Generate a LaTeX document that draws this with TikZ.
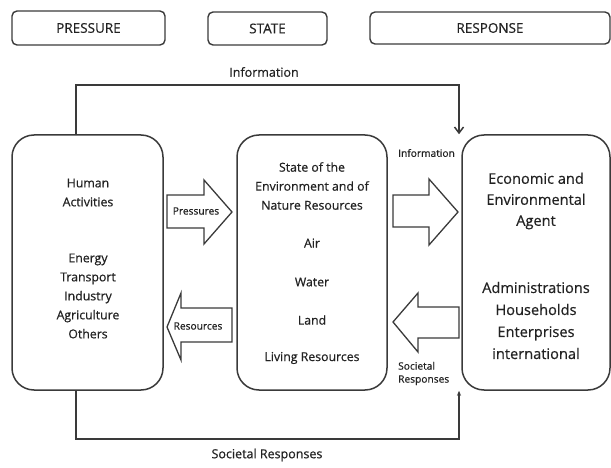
\documentclass[tikz,border=0pt]{standalone}
\usepackage{fontspec}
\setmainfont{Open Sans}[FakeBold=0.6]
\usetikzlibrary{arrows.meta}
\definecolor{ln}{HTML}{3A3A3A}
\definecolor{tx}{HTML}{222222}
\tikzset{
  hdr/.style={draw=ln, line width=1.4pt, rounded corners=5pt, text=tx, font=\fontsize{13.5}{15}\selectfont},
  bigbox/.style={draw=ln, line width=1.5pt, rounded corners=22pt},
  txt/.style={text=tx, align=center, inner sep=0pt},
  blockarrow/.style={draw=ln, line width=1.3pt, fill=white, line join=miter},
  conn/.style={draw=ln, line width=1.5pt},
  small/.style={text=tx, inner sep=0pt, font=\fontsize{10.2}{13}\selectfont},
}
\begin{document}
\begin{tikzpicture}[x=1pt,y=-1pt]
\useasboundingbox (0,0) rectangle (611,468);
% header boxes
\node[hdr, minimum width=153pt, minimum height=34pt] (hP) at (88.5,28) {PRESSURE};
\node[hdr, minimum width=119pt, minimum height=33pt] (hS) at (267.5,28.5) {STATE};
\node[hdr, minimum width=240pt, minimum height=32pt] (hR) at (490,28) {RESPONSE};
% big boxes
\node[bigbox, minimum width=151pt, minimum height=255pt] (L) at (87.5,262.5) {};
\node[bigbox, minimum width=150pt, minimum height=255pt] (M) at (312,262.5) {};
\node[bigbox, minimum width=148pt, minimum height=255pt] (R) at (536,262.5) {};
% left box text
\node[txt, font=\fontsize{12.3}{19}\selectfont] (l1) at (88,192.5) {Human\\Activities};
\node[txt, font=\fontsize{12.3}{19}\selectfont] (l2) at (88,296) {Energy\\Transport\\Industry\\Agriculture\\Others};
% middle box text
\node[txt, font=\fontsize{12.3}{19}\selectfont] (m1) at (312,186) {State of the\\Environment and of\\Nature Resources};
\node[txt, font=\fontsize{12.3}{19}\selectfont] (m2) at (312,243) {Air};
\node[txt, font=\fontsize{12.3}{19}\selectfont] (m3) at (312,282) {Water};
\node[txt, font=\fontsize{12.3}{19}\selectfont] (m4) at (312,320) {Land};
\node[txt, font=\fontsize{12.3}{19}\selectfont] (m5) at (312,358) {Living Resources};
% right box text
\node[txt, font=\fontsize{14.6}{21}\selectfont] (r1) at (536,201) {Economic and\\Environmental\\Agent};
\node[txt, font=\fontsize{14.6}{22}\selectfont] (r2) at (536,320.5) {Administrations\\Households\\Enterprises\\international};
% block arrows
\draw[blockarrow] (167,195) -- (204,195) -- (204,180) -- (232,212) -- (204,244) -- (204,228) -- (167,228) -- cycle;
\node[small] (pl) at (196,211) {Pressures};
\draw[blockarrow] (232,308) -- (181,308) -- (181,293) -- (167,327) -- (181,360) -- (181,342) -- (232,342) -- cycle;
\node[small] (rl) at (198,326) {Resources};
\draw[blockarrow] (393,195) -- (429,195) -- (429,179) -- (458,212) -- (429,245) -- (429,227) -- (393,227) -- cycle;
\node[small, anchor=west] (il) at (398,153) {Information};
\draw[blockarrow] (459,307) -- (418,307) -- (418,293) -- (393,322) -- (418,352) -- (418,338) -- (459,338) -- cycle;
\node[small, anchor=west, align=left] (sl) at (398,373.5) {Societal\\Responses};
% feedback connectors
\coordinate (xa) at (76,0);
\coordinate (xb) at (459,0);
\coordinate (yt) at (0,85);
\coordinate (yb) at (0,439);
\draw[conn, -{Straight Barb[length=6pt,width=9pt]}] (L.north -| xa) -- (xa |- yt) -- (xb |- yt) -- (R.north -| xb);
\draw[conn, -{Stealth[length=5pt,width=4pt]}] (L.south -| xa) -- (xa |- yb) -- (xb |- yb) -- (R.south -| xb);
\node[txt, font=\fontsize{12.5}{14}\selectfont] (it) at (264,72) {Information};
\node[txt, font=\fontsize{12.5}{14}\selectfont] (st) at (267,455) {Societal Responses};
\end{tikzpicture}
\end{document}
